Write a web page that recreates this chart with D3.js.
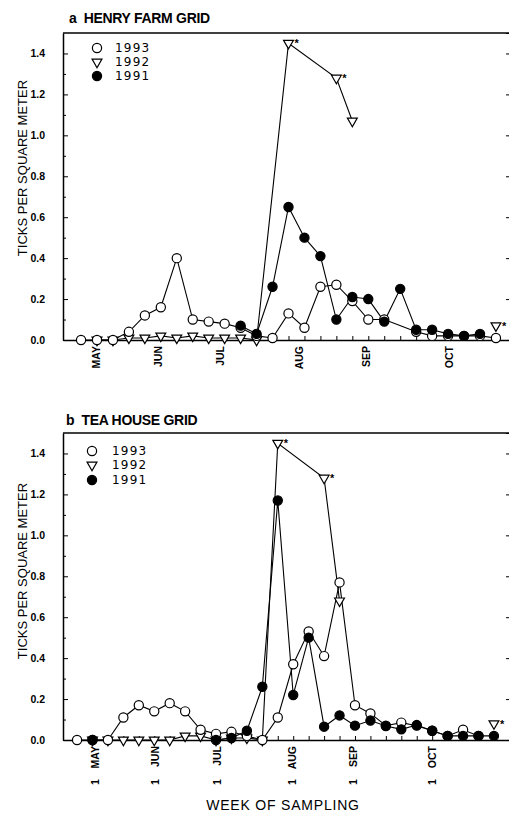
<!DOCTYPE html>
<html>
<head>
<meta charset="utf-8">
<script src="https://cdn.jsdelivr.net/npm/d3@7"></script>
<style>
  body { margin: 0; background: #fff; }
  svg { display: block; font-family: "Liberation Sans", Arial, sans-serif; }
</style>
</head>
<body>
<div id="chart-container"></div>
<script>
// ticks per square meter, one entry per sampling week (null = not sampled)
const henry1993 = [0, 0, 0, 0.04, 0.12, 0.16, 0.40, 0.10, 0.09, 0.08, 0.06, 0.02, 0.01, 0.13, 0.06, 0.26, 0.27, 0.19, 0.10, 0.10, null, 0.04, 0.02, 0.02, 0.02, 0.02, 0.01];
const henry1992 = [null, 0, 0, 0.01, 0.01, 0.02, 0.01, 0.02, 0.01, 0.01, 0.01, 0, null, 1.45, null, null, 1.28, 1.07, null, null, null, null, null, null, null, null, 0.07];
const henry1991 = [null, null, null, null, null, null, null, null, null, null, 0.07, 0.03, 0.26, 0.65, 0.50, 0.41, 0.10, 0.21, 0.20, 0.09, 0.25, 0.05, 0.05, 0.03, 0.02, 0.03, null];
const henryStars = [13, 16, 26];

const tea1993 = [0, 0, 0, 0.11, 0.17, 0.14, 0.18, 0.14, 0.05, 0.03, 0.04, 0.02, 0, 0.11, 0.37, 0.53, 0.41, 0.77, 0.17, 0.13, 0.07, 0.085, 0.07, 0.045, 0.02, 0.05, 0.02, null];
const tea1992 = [null, 0, 0, 0, 0, 0, 0, 0.02, 0.02, 0, 0.01, 0.01, 0, 1.45, null, null, 1.28, 0.68, null, null, null, null, null, null, null, null, null, 0.08];
const tea1991 = [null, 0, null, null, null, null, null, null, null, 0, 0.01, 0.045, 0.26, 1.17, 0.22, 0.50, 0.065, 0.12, 0.07, 0.095, 0.068, 0.052, 0.073, 0.045, 0.02, 0.02, 0.02, 0.02];
const teaStars = [13, 16, 27];

// month labels and where they sit, in sampling weeks
const henryMonths = ["MAY", "JUN", "JUL", "AUG", "SEP", "OCT"];
const henryMonthWeeks = [0.94, 4.82, 8.71, 13.66, 17.86, 23.06];
const teaMonths = ["MAY", "JUN", "JUL", "AUG", "SEP", "OCT"];
const teaMonthWeeks = [1.17, 5.05, 9.07, 13.92, 17.88, 22.99];

const years = ["1993", "1992", "1991"];
const yTicks = [0, 0.2, 0.4, 0.6, 0.8, 1.0, 1.2, 1.4];
const yMinor = [0.1, 0.3, 0.5, 0.7, 0.9, 1.1, 1.3];

const width = 509, height = 817;
const left = 63, right = 510;

const svg = d3.select("#chart-container").append("svg")
  .attr("width", width)
  .attr("height", height);

const panels = [
  { title: "a  HENRY FARM GRID", titleY: 23, titleX: 69, top: 33, bottom: 340,
    xDomain: [-1.13, 26.88], data: { "1993": henry1993, "1992": henry1992, "1991": henry1991 },
    stars: henryStars, months: henryMonths, monthWeeks: henryMonthWeeks, dayOne: false,
    legendX: 97, legendText: 18, legendY: [48, 62, 76], yTitleY: 168 },
  { title: "b  TEA HOUSE GRID", titleY: 425, titleX: 66, top: 433, bottom: 740,
    xDomain: [-0.91, 28.04], data: { "1993": tea1993, "1992": tea1992, "1991": tea1991 },
    stars: teaStars, months: teaMonths, monthWeeks: teaMonthWeeks, dayOne: true,
    legendX: 92, legendText: 20, legendY: [451, 465, 480], yTitleY: 571 }
];

panels.forEach(drawPanel);

svg.append("text")
  .attr("x", 283).attr("y", 810)
  .attr("text-anchor", "middle")
  .attr("font-size", 14)
  .attr("letter-spacing", 0.8)
  .text("WEEK OF SAMPLING");

function segments(values) {
  // consecutive samples are joined unless the gap is long
  let pts = values.map((v, i) => ({ w: i, v: v })).filter(d => d.v != null);
  let out = [], cur = [];
  pts.forEach((p, k) => {
    if (k > 0 && p.w - pts[k - 1].w > 3) { out.push(cur); cur = []; }
    cur.push(p);
  });
  if (cur.length) out.push(cur);
  return out;
}

function drawMarker(sel, year) {
  if (year === "1992") {
    sel.append("path")
      .attr("d", d3.symbol(d3.symbolTriangle, 42))
      .attr("transform", "rotate(180)")
      .attr("fill", "#fff").attr("stroke", "#000").attr("stroke-width", 1.2);
  } else {
    sel.append("circle")
      .attr("r", 4.6)
      .attr("fill", year === "1991" ? "#000" : "#fff")
      .attr("stroke", "#000").attr("stroke-width", 1.2);
  }
}

function drawPanel(p) {
  let x = d3.scaleLinear().domain(p.xDomain).range([left, right]);
  let y = d3.scaleLinear().domain([0, 1.5]).range([p.bottom, p.top]);
  let g = svg.append("g");

  g.append("text")
    .attr("x", p.titleX).attr("y", p.titleY)
    .attr("font-size", 14).attr("font-weight", "bold")
    .attr("letter-spacing", -0.3)
    .style("white-space", "pre")
    .text(p.title);

  // frame
  g.append("line")
    .attr("x1", left).attr("x2", right)
    .attr("y1", p.top).attr("y2", p.top)
    .attr("stroke", "#000").attr("stroke-width", 1.5);

  let yAxis = g.append("g")
    .attr("transform", "translate(" + left + ",0)")
    .call(d3.axisLeft(y).tickValues(yTicks).tickSizeInner(-5).tickSizeOuter(0)
      .tickPadding(18).tickFormat(d3.format(".1f")));
  yAxis.select(".domain").attr("stroke-width", 1.5);
  yAxis.selectAll("text").attr("font-size", 10.5).attr("font-weight", "bold")
    .attr("font-family", "'Liberation Sans', Arial, sans-serif").attr("fill", "#000");

  g.append("g")
    .attr("transform", "translate(" + left + ",0)")
    .call(d3.axisLeft(y).tickValues(yMinor).tickSize(-3).tickFormat(""))
    .select(".domain").remove();

  g.append("g")
    .attr("transform", "translate(" + right + ",0)")
    .call(d3.axisRight(y).tickValues(yTicks.slice(1)).tickSize(-4).tickFormat(""));

  let nWeeks = p.data["1993"].length;
  let xAxis = g.append("g")
    .attr("transform", "translate(0," + p.bottom + ")")
    .call(d3.axisBottom(x).tickValues(d3.range(nWeeks)).tickSizeInner(-4).tickSizeOuter(0).tickFormat(""));
  xAxis.select(".domain").attr("stroke-width", 1.5);

  // month labels
  p.months.forEach((m, i) => {
    let mx = x(p.monthWeeks[i]);
    g.append("text")
      .attr("transform", "translate(" + mx + "," + (p.bottom + 6) + ") rotate(-90)")
      .attr("dy", "0.35em")
      .attr("text-anchor", "end")
      .attr("font-size", 10.5).attr("font-weight", "bold")
      .text(m);
    if (p.dayOne) {
      g.append("text")
        .attr("transform", "translate(" + mx + "," + (p.bottom + 45) + ") rotate(-90)")
        .attr("dy", "0.35em")
        .attr("text-anchor", "start")
        .attr("font-size", 10.5).attr("font-weight", "bold")
        .text("1");
    }
  });

  g.append("text")
    .attr("transform", "translate(22," + p.yTitleY + ") rotate(-90)")
    .attr("dy", "0.35em")
    .attr("text-anchor", "middle")
    .attr("font-size", 13)
    .text("TICKS PER SQUARE METER");

  let line = d3.line().x(d => x(d.w)).y(d => y(d.v));
  let order = ["1992", "1993", "1991"];

  order.forEach(yr => {
    segments(p.data[yr]).forEach(seg => {
      if (seg.length < 2) return;
      g.append("path")
        .datum(seg)
        .attr("d", line)
        .attr("fill", "none")
        .attr("stroke", "#000")
        .attr("stroke-width", 1.1);
    });
  });

  order.forEach(yr => {
    let pts = p.data[yr].map((v, i) => ({ w: i, v: v })).filter(d => d.v != null);
    g.selectAll(null)
      .data(pts).enter()
      .append("g")
      .attr("transform", d => "translate(" + x(d.w) + "," + y(d.v) + ")")
      .each(function() { drawMarker(d3.select(this), yr); });
  });

  // asterisks beside the 1992 values
  p.stars.forEach(w => {
    g.append("text")
      .attr("x", x(w) + 6).attr("y", y(p.data["1992"][w]) + 4)
      .attr("font-size", 11).attr("font-weight", "bold")
      .text("*");
  });

  // legend
  years.forEach((yr, i) => {
    let lg = g.append("g").attr("transform", "translate(" + p.legendX + "," + p.legendY[i] + ")");
    drawMarker(lg, yr);
    lg.append("text")
      .attr("x", p.legendText).attr("dy", "0.36em")
      .attr("font-family", "'DejaVu Sans', sans-serif")
      .attr("font-size", 12).attr("letter-spacing", 1.2)
      .text(yr);
  });
}
</script>
</body>
</html>
